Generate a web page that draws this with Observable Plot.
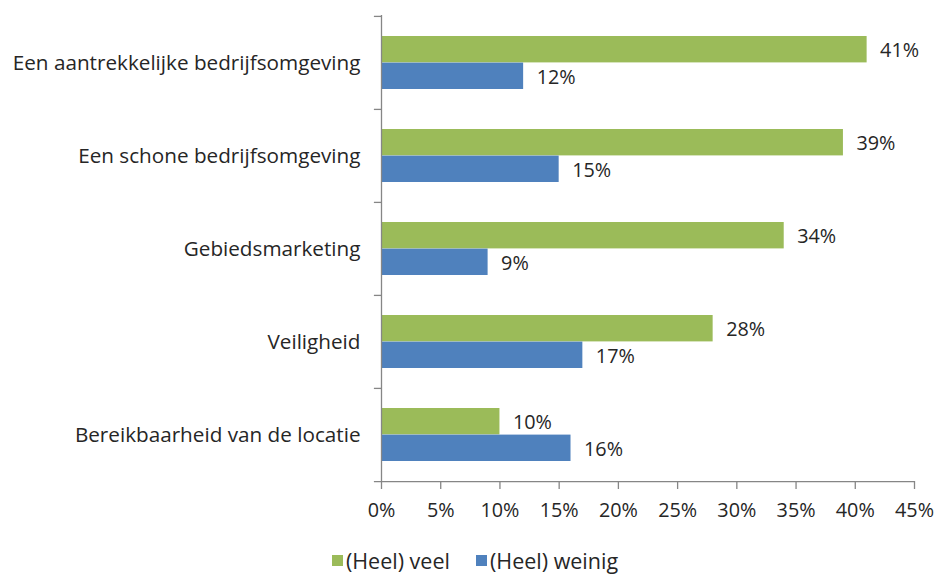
<!DOCTYPE html>
<html>
<head>
<meta charset="utf-8">
<script src="https://cdn.jsdelivr.net/npm/d3@7"></script>
<script src="https://cdn.jsdelivr.net/npm/@observablehq/plot@0.6"></script>
<style>
  body { margin: 0; background: #fff; font-family: "Open Sans", Lato, sans-serif; }
  #legend { display: flex; justify-content: center; align-items: center; gap: 26px; font-size: 21.5px; color: #262626; height: 40px; margin-left: 14px; }
  #legend .item { display: flex; align-items: center; gap: 3px; }
  #legend .sw { width: 11px; height: 11px; display: inline-block; }
</style>
</head>
<body>
<div id="chart"></div>
<div id="legend"></div>
<script>
const categories = [
  "Een aantrekkelijke bedrijfsomgeving",
  "Een schone bedrijfsomgeving",
  "Gebiedsmarketing",
  "Veiligheid",
  "Bereikbaarheid van de locatie"
];
const seriesNames = ["(Heel) veel", "(Heel) weinig"];
const veel = [41, 39, 34, 28, 10];
const weinig = [12, 15, 9, 17, 16];
const xTicks = [0, 5, 10, 15, 20, 25, 30, 35, 40, 45];
const colors = ["#9BBB59", "#4F81BD"];

const rows = categories.map((c, i) => ({cat: c, veel: veel[i], weinig: weinig[i]}));

const W = 936, H = 540, mTop = 15, mBottom = 59;
const band = (H - mTop - mBottom) / categories.length;
const pad = 20;
const barH = (band - 2 * pad) / 2;
const axisColor = "#868686";
const textColor = "#262626";
const fs = 19.8;

const plot = Plot.plot({
  width: W,
  height: H,
  marginLeft: 381,
  marginRight: 22,
  marginTop: mTop,
  marginBottom: mBottom,
  style: {fontFamily: "'Open Sans', Lato, sans-serif", fontSize: fs + "px", color: textColor, background: "#fff"},
  x: {domain: [0, 45]},
  y: {domain: categories, padding: 0},
  marks: [
    Plot.barX(rows, {y: "cat", x: "veel", fill: colors[0], insetTop: pad, insetBottom: band - pad - barH}),
    Plot.barX(rows, {y: "cat", x: "weinig", fill: colors[1], insetTop: pad + barH, insetBottom: pad}),
    Plot.text(rows, {y: "cat", x: "veel", text: d => d.veel + "%", dx: 13, dy: -barH / 2 + 1, textAnchor: "start", fill: textColor, fontSize: fs}),
    Plot.text(rows, {y: "cat", x: "weinig", text: d => d.weinig + "%", dx: 13, dy: barH / 2 + 1, textAnchor: "start", fill: textColor, fontSize: fs}),
    Plot.ruleX([0], {stroke: axisColor, strokeWidth: 1.3}),
    Plot.ruleY(categories, {y: d => d, x1: -0.6, x2: 0, dy: -band / 2, stroke: axisColor, strokeWidth: 1.3}),
    Plot.ruleY([categories[categories.length - 1]], {y: d => d, x1: -0.6, x2: 45, dy: band / 2, stroke: axisColor, strokeWidth: 1.3}),
    Plot.axisX({ticks: xTicks, tickFormat: d => d + "%", tickSize: 8, tickPadding: 13, stroke: axisColor, strokeWidth: 1.3, fill: textColor, label: null, fontSize: fs}),
    Plot.axisY({tickSize: 0, tickPadding: 21, label: null, fill: textColor, fontSize: 20.7})
  ]
});
document.getElementById("chart").appendChild(plot);

const legend = document.getElementById("legend");
seriesNames.forEach((s, i) => {
  const item = document.createElement("span");
  item.className = "item";
  const sw = document.createElement("span");
  sw.className = "sw";
  sw.style.background = colors[i];
  item.appendChild(sw);
  item.appendChild(document.createTextNode(s));
  legend.appendChild(item);
});
</script>
</body>
</html>
